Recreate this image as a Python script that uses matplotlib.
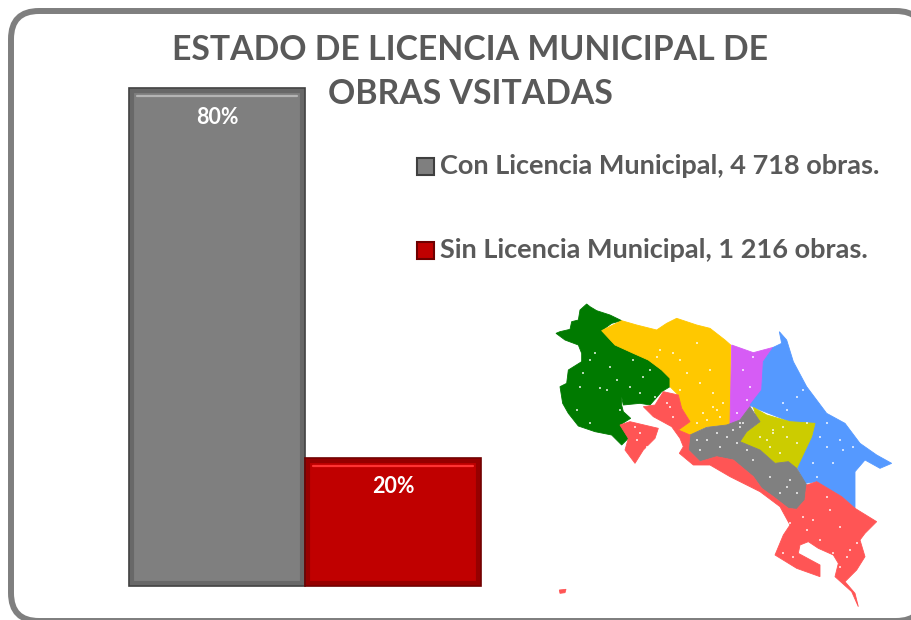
"""Estado de licencia municipal: two bars, legend text and a Costa Rica region map."""

import matplotlib
matplotlib.use('Agg')
import matplotlib.pyplot as plt
from matplotlib.patches import FancyBboxPatch, Polygon, Rectangle

plt.rcParams['font.family'] = ['Lato', 'DejaVu Sans']

W, H = 911, 620

TITLE_LINES = ['ESTADO DE LICENCIA MUNICIPAL DE', 'OBRAS VSITADAS']
CATEGORIES = ['Con Licencia Municipal', 'Sin Licencia Municipal']
OBRAS = [4718, 1216]
OBRAS_TEXT = ['4 718', '1 216']
SHARE_LABELS = ['80%', '20%']

TEXT_GREY = '#595959'
BAR_FILL = ['#7f7f7f', '#c00000']
BAR_EDGE = ['#3f3f3f', '#6e0000']
BAR_BEVEL = ['#686868', '#960000']
BAR_GLOSS = ['#b4b4b4', '#ff3333']

MAP_ORIGIN = (540, 290)
MAP_REGIONS = [
    ('#007a00', [(140, 42), (150, 50), (170, 62), (210, 75), (245, 92), (215, 100), (185, 122), (225, 165),
                 (280, 190), (325, 210), (365, 240), (390, 265), (390, 290), (365, 305), (330, 345),
                 (300, 340), (250, 345), (245, 320), (245, 345), (250, 365), (272, 385), (240, 405),
                 (265, 445), (245, 465), (215, 435), (165, 425), (115, 408), (85, 370), (68, 340),
                 (60, 290), (80, 280), (85, 240), (125, 215), (125, 190), (115, 165), (75, 150),
                 (48, 130), (60, 125), (90, 118), (95, 95), (115, 90), (120, 60)]),
    ('#ffc800', [(185, 122), (245, 92), (290, 105), (350, 120), (380, 100), (410, 85), (470, 105),
                 (510, 115), (555, 150), (572, 165), (572, 400), (560, 405), (500, 410), (450, 435),
                 (415, 420), (450, 395), (425, 355), (415, 315), (390, 290), (390, 265), (365, 240),
                 (325, 210), (280, 190), (225, 165)]),
    ('#d65cf5', [(575, 165), (640, 188), (700, 172), (670, 215), (665, 300), (630, 350), (600, 390),
                 (570, 402)]),
    ('#5599ff', [(700, 172), (725, 160), (718, 125), (740, 150), (760, 215), (800, 290), (860, 370),
                 (915, 400), (960, 460), (1010, 495), (1055, 520), (1020, 535), (975, 510), (945, 545),
                 (945, 655), (905, 620), (830, 575), (795, 580), (770, 530), (815, 440), (825, 400),
                 (750, 395), (640, 352), (630, 345), (665, 300), (670, 215)]),
    ('#cccc00', [(640, 352), (680, 375), (750, 395), (825, 400), (815, 440), (770, 535), (745, 515),
                 (705, 520), (660, 480), (600, 455), (620, 425), (655, 400)]),
    ('#808080', [(450, 435), (500, 412), (560, 405), (600, 390), (630, 350), (660, 395), (620, 425),
                 (600, 455), (660, 480), (705, 520), (745, 515), (770, 535), (800, 585), (795, 630),
                 (770, 658), (745, 655), (700, 620), (665, 595), (640, 560), (580, 510), (530, 500),
                 (480, 515), (445, 480)]),
    ('#ff5555', [(370, 305), (415, 315), (425, 355), (450, 395), (415, 420), (450, 435), (445, 480),
                 (480, 515), (530, 500), (580, 510), (640, 560), (665, 595), (700, 620), (745, 655),
                 (770, 658), (795, 630), (800, 585), (830, 575), (905, 620), (945, 655), (1010, 695),
                 (975, 730), (960, 750), (975, 800), (950, 840), (915, 875), (945, 910), (955, 950),
                 (935, 905), (885, 860), (895, 820), (880, 795), (835, 775), (805, 755), (780, 765),
                 (775, 790), (840, 825), (840, 860), (770, 835), (705, 795), (730, 735), (750, 705),
                 (720, 650), (660, 605), (570, 560), (510, 525), (460, 525), (418, 490), (430, 470),
                 (420, 445), (395, 410), (340, 380), (310, 350), (345, 345)]),
    ('#ff5555', [(240, 405), (270, 395), (355, 415), (345, 445), (310, 480), (285, 520), (255, 480),
                 (265, 445)]),
    ('#ff5555', [(58, 900), (78, 898), (75, 908), (60, 910)]),
]

# The pale flecks on the map, same crop coordinates
FLECK_X = [150, 210, 280, 310, 120, 180, 240, 150, 110, 200, 130, 165, 230, 270, 330, 300, 345,
           350, 420, 470, 520, 400, 490, 540, 520, 440, 360, 480, 510, 530, 470, 500, 550, 420,
           610, 630, 590, 600, 620, 640,
           730, 770, 740, 800, 860, 880, 840, 700, 910, 940, 820, 790, 860, 900, 830,
           690, 740, 680, 720, 770, 700, 660, 730,
           500, 560, 600, 480, 540, 640, 690, 740, 720, 580, 470, 620, 530, 590, 610, 750, 770,
           820, 870, 900, 800, 930, 880, 750, 900, 860, 950, 790, 840, 920, 760, 730,
           390, 400, 380, 300, 290, 320, 285]
FLECK_Y = [210, 230, 210, 260, 290, 295, 360, 400, 360, 300, 250, 190, 270, 290, 240, 310, 320,
           200, 210, 160, 310, 190, 370, 380, 350, 250, 180, 280, 240, 360, 400, 390, 340, 300,
           240, 290, 370, 400, 330, 200,
           340, 320, 360, 400, 470, 520, 440, 430, 480, 470, 520, 300, 400, 450, 560,
           470, 440, 450, 490, 460, 420, 440, 410,
           450, 440, 410, 480, 470, 510, 560, 590, 610, 420, 450, 480, 430, 460, 400, 570, 610,
           690, 660, 710, 720, 780, 790, 700, 830, 620, 760, 680, 750, 800, 800, 790,
           350, 380, 340, 430, 450, 470, 410]

fig = plt.figure(figsize=(W / 100, H / 100), dpi=100, facecolor='white')

# Rounded frame sits behind everything and runs off the right and bottom edges
px = fig.add_axes([0, 0, 1, 1], zorder=-1)
px.set_xlim(0, W)
px.set_ylim(H, 0)
px.axis('off')
px.add_patch(FancyBboxPatch((11, 11), 913, 610, boxstyle='round,pad=0,rounding_size=28',
                            linewidth=4.3, edgecolor='#7f7f7f', facecolor='white'))

# Bars
ax = fig.add_axes([129 / W, (H - 586) / H, 352 / W, 498 / H])
bars = ax.bar(range(len(OBRAS)), OBRAS, width=1.0, color=BAR_FILL)
ax.set_xlim(-0.5, 1.5)
ax.set_ylim(0, max(OBRAS))
ax.axis('off')

# Pixel overlay for bevels, text and map
over = fig.add_axes([0, 0, 1, 1], zorder=5)
over.set_xlim(0, W)
over.set_ylim(H, 0)
over.axis('off')
over.patch.set_alpha(0)

fig.canvas.draw()
for i, bar in enumerate(bars):
    (x0, y0), (x1, y1) = ax.transData.transform(
        [(bar.get_x(), bar.get_height()), (bar.get_x() + bar.get_width(), 0)])
    left, right = x0, x1
    top, bottom = H - y0, H - y1
    over.add_patch(Rectangle((left + 3, top + 3), right - left - 6, bottom - top - 6,
                             fill=False, edgecolor=BAR_BEVEL[i], linewidth=3))
    over.add_patch(Rectangle((left, top), right - left, bottom - top,
                             fill=False, edgecolor=BAR_EDGE[i], linewidth=1.2))
    over.plot([left + 8, right - 8], [top + 8, top + 8], color=BAR_GLOSS[i], linewidth=1.6,
              solid_capstyle='round')
    over.text((left + right) / 2, top + 29, SHARE_LABELS[i], color='white', fontsize=15.5,
              weight='bold', ha='center', va='center')

# Title lines are separate texts, the second one starts right of the grey bar
for y, line in zip((50, 94), TITLE_LINES):
    over.text(470.5, y, line, color=TEXT_GREY, fontsize=24.3, weight='bold', ha='center',
              va='center')

# Legend
for y, fill, edge, name, count in zip((166, 250), BAR_FILL, BAR_EDGE, CATEGORIES, OBRAS_TEXT):
    over.add_patch(Rectangle((417, y - 8.5), 17, 17, facecolor=fill, edgecolor=edge, linewidth=1.5))
    over.text(440, y + 0.5, f'{name}, {count} obras.', color=TEXT_GREY, fontsize=19.5, weight='bold',
              ha='left', va='center')

# Map
ox, oy = MAP_ORIGIN
for colour, outline in MAP_REGIONS:
    over.add_patch(Polygon([(ox + x / 3, oy + y / 3) for x, y in outline], closed=True,
                           facecolor=colour, edgecolor=colour, linewidth=0.6))
over.scatter([ox + x / 3 for x in FLECK_X], [oy + y / 3 for y in FLECK_Y], s=3.5,
             color='white', alpha=0.7, linewidths=0, marker='s')

fig.savefig('out.png', dpi=100, facecolor='white')
